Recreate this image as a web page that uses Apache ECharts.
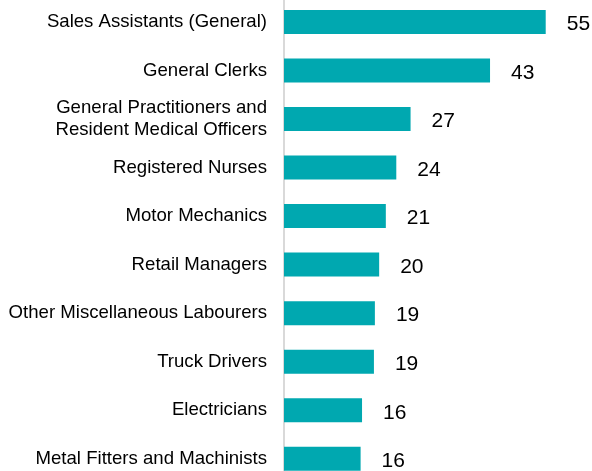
<!DOCTYPE html>
<html>
<head>
<meta charset="utf-8">
<script src="https://cdn.jsdelivr.net/npm/echarts@6/dist/echarts.min.js"></script>
<style>
  html, body { margin: 0; padding: 0; background: #fff; }
  #main { width: 592px; height: 471px; }
</style>
</head>
<body>
<div id="main"></div>
<script>
// top to bottom, as in the picture
var occupations = [
  'Sales Assistants (General)',
  'General Clerks',
  'General Practitioners and\nResident Medical Officers',
  'Registered Nurses',
  'Motor Mechanics',
  'Retail Managers',
  'Other Miscellaneous Labourers',
  'Truck Drivers',
  'Electricians',
  'Metal Fitters and Machinists'
]
var counts = [55, 43.3, 26.6, 23.6, 21.4, 20.0, 19.1, 18.9, 16.4, 16.1]

var chart = echarts.init(document.getElementById('main'))

var option = {
  animation: false,
  textStyle: { fontFamily: 'Liberation Sans, Arial, sans-serif' },
  grid: {
    left: 284,
    right: 22.5,
    top: -2.3,
    bottom: -12,
    containLabel: false,
    outerBoundsMode: 'none'
  },
  xAxis: {
    type: 'value',
    min: 0,
    max: 60,
    show: false
  },
  yAxis: {
    type: 'category',
    inverse: true,
    data: occupations,
    axisLine: { show: true, lineStyle: { color: '#d9d9d9', width: 2 } },
    axisTick: { show: false },
    axisLabel: {
      margin: 17,
      fontSize: 18.6,
      lineHeight: 22.6,
      color: '#000',
      align: 'right'
    }
  },
  series: [{
    type: 'bar',
    data: counts,
    barWidth: 24,
    itemStyle: { color: '#00a8b0' },
    label: {
      show: true,
      position: 'right',
      distance: 21,
      offset: [0, 2.5],
      fontSize: 21,
      color: '#000',
      formatter: function(p) {
        return Math.round(p.value)
      }
    }
  }]
}

chart.setOption(option)
</script>
</body>
</html>
